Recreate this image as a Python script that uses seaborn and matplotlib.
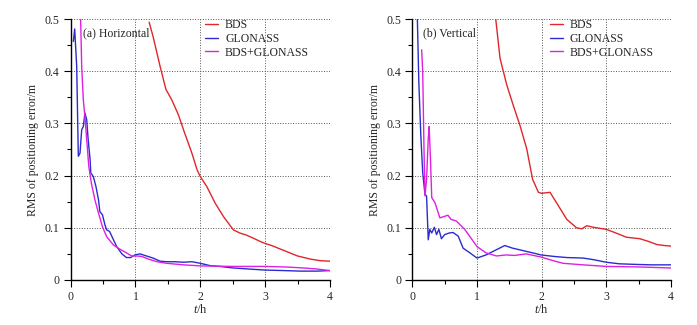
import numpy as np
import pandas as pd
import matplotlib
matplotlib.use('Agg')
import matplotlib.pyplot as plt
import seaborn as sns
from matplotlib.ticker import MultipleLocator, FuncFormatter

# Horizontal RMS (a)
h_bds_t = [1.21, 1.27, 1.38, 1.47, 1.56, 1.66, 1.76, 1.87, 1.95, 2.0, 2.1, 2.23, 2.36, 2.51,
           2.61, 2.71, 2.82, 2.92, 3.0, 3.1, 3.3, 3.5, 3.7, 3.85, 4.0]
h_bds_v = [0.494, 0.467, 0.409, 0.365, 0.345, 0.317, 0.281, 0.243, 0.211, 0.198, 0.179, 0.147,
           0.121, 0.096, 0.090, 0.086, 0.080, 0.074, 0.070, 0.066, 0.056, 0.046, 0.040, 0.037, 0.036]

h_glo_t = [0.041, 0.062, 0.093, 0.118, 0.144, 0.17, 0.195, 0.22, 0.247, 0.27, 0.3, 0.31, 0.35,
           0.39, 0.43, 0.45, 0.49, 0.53, 0.555, 0.6, 0.66, 0.71, 0.79, 0.86, 0.925, 0.99, 1.07,
           1.17, 1.27, 1.38, 1.48, 1.61, 1.74, 1.87, 2.0, 2.15, 2.3, 2.51, 2.75, 3.0, 3.3, 3.54,
           3.8, 4.0]
h_glo_v = [0.457, 0.481, 0.409, 0.237, 0.243, 0.288, 0.294, 0.320, 0.307, 0.269, 0.230, 0.205,
           0.198, 0.179, 0.153, 0.131, 0.125, 0.105, 0.096, 0.093, 0.077, 0.064, 0.050, 0.043,
           0.043, 0.048, 0.050, 0.046, 0.042, 0.036, 0.035, 0.035, 0.034, 0.035, 0.032, 0.0275,
           0.026, 0.023, 0.021, 0.019, 0.018, 0.017, 0.017, 0.018]

h_com_t = [0.148, 0.154, 0.17, 0.195, 0.22, 0.247, 0.28, 0.32, 0.375, 0.43, 0.49, 0.555, 0.66,
           0.76, 0.86, 0.94, 1.02, 1.1, 1.2, 1.33, 1.48, 1.74, 2.0, 2.5, 3.0, 3.3, 3.6, 3.8, 4.0]
h_com_v = [0.52, 0.497, 0.409, 0.345, 0.313, 0.269, 0.217, 0.185, 0.153, 0.128, 0.102, 0.083,
           0.067, 0.059, 0.052, 0.046, 0.046, 0.045, 0.040, 0.035, 0.032, 0.029, 0.027, 0.026,
           0.026, 0.025, 0.023, 0.021, 0.018]

# Vertical RMS (b)
v_bds_t = [1.29, 1.356, 1.46, 1.56, 1.665, 1.77, 1.86, 1.95, 2.0, 2.13, 2.23, 2.39, 2.54, 2.62,
           2.7, 2.8, 3.0, 3.15, 3.31, 3.52, 3.65, 3.78, 3.9, 4.0]
v_bds_v = [0.50, 0.425, 0.374, 0.335, 0.296, 0.251, 0.193, 0.168, 0.166, 0.168, 0.148, 0.116,
           0.100, 0.098, 0.104, 0.101, 0.097, 0.090, 0.082, 0.079, 0.074, 0.068, 0.066, 0.065]

v_glo_t = [0.072, 0.10, 0.13, 0.16, 0.195, 0.22, 0.246, 0.27, 0.3, 0.34, 0.374, 0.41, 0.45, 0.5,
           0.57, 0.63, 0.71, 0.785, 0.89, 1.0, 1.14, 1.3, 1.43, 1.55, 1.86, 1.99, 2.2, 2.39,
           2.64, 2.8, 3.0, 3.2, 3.42, 3.7, 4.0]
v_glo_v = [0.53, 0.38, 0.28, 0.206, 0.164, 0.161, 0.077, 0.097, 0.090, 0.101, 0.087, 0.097,
           0.079, 0.087, 0.090, 0.091, 0.084, 0.061, 0.052, 0.042, 0.048, 0.058, 0.066, 0.061,
           0.052, 0.048, 0.045, 0.043, 0.042, 0.039, 0.034, 0.031, 0.030, 0.029, 0.029]

v_com_t = [0.144, 0.16, 0.18, 0.195, 0.22, 0.246, 0.26, 0.28, 0.3, 0.35, 0.4, 0.426, 0.5, 0.55,
           0.6, 0.68, 0.81, 1.0, 1.14, 1.3, 1.45, 1.58, 1.76, 1.99, 2.15, 2.33, 2.64, 3.0, 3.5,
           4.0]
v_com_v = [0.441, 0.40, 0.253, 0.161, 0.193, 0.271, 0.294, 0.232, 0.158, 0.148, 0.129, 0.119,
           0.122, 0.124, 0.116, 0.113, 0.097, 0.064, 0.052, 0.046, 0.048, 0.047, 0.050, 0.044,
           0.038, 0.032, 0.029, 0.026, 0.025, 0.023]

series_names = ['BDS', 'GLONASS', 'BDS+GLONASS']
palette = {'BDS': '#e0262a', 'GLONASS': '#2b2bd0', 'BDS+GLONASS': '#e020e0'}


def make_frame(groups):
    parts = []
    for name, (t, v) in zip(series_names, groups):
        parts.append(pd.DataFrame({'t': t, 'rms': v, 'system': name}))
    return pd.concat(parts, ignore_index=True)


sns.set_theme(style='ticks')
plt.rcParams['font.family'] = ['Liberation Serif', 'DejaVu Serif']
plt.rcParams['mathtext.fontset'] = 'custom'
plt.rcParams['mathtext.rm'] = 'Liberation Serif'
plt.rcParams['mathtext.it'] = 'Liberation Serif:italic'

fig = plt.figure(figsize=(6.97, 3.25), dpi=100)
ax_a = fig.add_axes([0.1014, 0.1385, 0.372, 0.803])
ax_b = fig.add_axes([0.5916, 0.1385, 0.371, 0.803])

panels = [
    (ax_a, make_frame([(h_bds_t, h_bds_v), (h_glo_t, h_glo_v), (h_com_t, h_com_v)]),
     '(a) Horizontal', 0.195, 0.518),
    (ax_b, make_frame([(v_bds_t, v_bds_v), (v_glo_t, v_glo_v), (v_com_t, v_com_v)]),
     '(b) Vertical', 0.17, 0.532),
]

for ax, df, label, lx, legx in panels:
    sns.lineplot(data=df, x='t', y='rms', hue='system', hue_order=series_names,
                 palette=palette, linewidth=1.0, sort=False, estimator=None, ax=ax)
    ax.set_xlim(0, 4)
    ax.set_ylim(0, 0.5)
    ax.xaxis.set_major_locator(MultipleLocator(1))
    ax.xaxis.set_minor_locator(MultipleLocator(0.5))
    ax.yaxis.set_major_locator(MultipleLocator(0.1))
    ax.yaxis.set_minor_locator(MultipleLocator(0.05))
    ax.yaxis.set_major_formatter(FuncFormatter(lambda v, p: '0' if abs(v) < 1e-9 else f'{v:.1f}'))
    ax.grid(True, which='major', linestyle=':', color='#555555', linewidth=0.7)
    ax.set_axisbelow(True)
    for s in ['top', 'right']:
        ax.spines[s].set_visible(False)
    for s in ['left', 'bottom']:
        ax.spines[s].set_color('black')
        ax.spines[s].set_linewidth(1.0)
    ax.tick_params(which='major', direction='out', length=5, width=0.8, labelsize=8.5,
                   color='black', pad=3)
    ax.tick_params(which='minor', direction='out', length=3, width=0.8, color='black')
    ax.set_xlabel('$t$/h', fontsize=9, labelpad=0)
    ax.set_ylabel('RMS of positioning error/m', fontsize=8.5, labelpad=4)
    ax.text(lx, 0.473, label, fontsize=8.5, va='center', ha='left')
    ax.legend(loc='upper left', bbox_to_anchor=(legx, 1.0), frameon=False, fontsize=8.5,
              handlelength=1.1, handletextpad=0.6, labelspacing=0.15, borderpad=0,
              borderaxespad=0)

fig.savefig('out.png', dpi=100)
